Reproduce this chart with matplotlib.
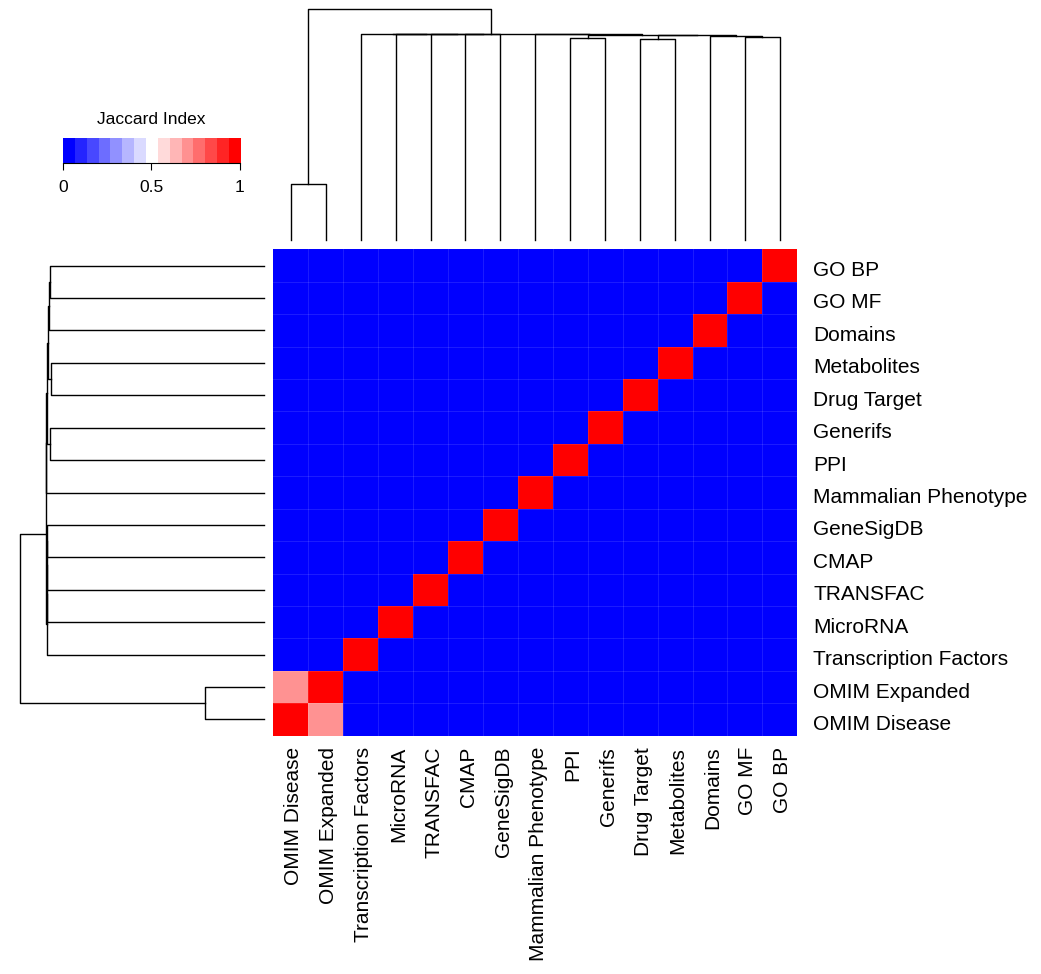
import numpy as np
import matplotlib
matplotlib.use('Agg')
import matplotlib.pyplot as plt
import matplotlib.transforms as mtransforms
from matplotlib.colors import ListedColormap, BoundaryNorm

plt.rcParams['font.family'] = ['Liberation Sans', 'DejaVu Sans']

# gene set libraries in clustered order (left to right on columns, bottom to top on rows)
labels = ['OMIM Disease', 'OMIM Expanded', 'Transcription Factors', 'MicroRNA',
          'TRANSFAC', 'CMAP', 'GeneSigDB', 'Mammalian Phenotype', 'PPI',
          'Generifs', 'Drug Target', 'Metabolites', 'Domains', 'GO MF', 'GO BP']

# jaccard index: 1 on the diagonal, ~0 elsewhere, except the two OMIM libraries
self_overlap = 1.0
omim_overlap = 0.70
background = 0.0

# hierarchical clustering merges: (left, right, height); ints refer to earlier merges
merges = [
    ('OMIM Disease', 'OMIM Expanded', 0.242),   # 0
    ('Drug Target', 'Metabolites', 0.872),      # 1
    ('PPI', 'Generifs', 0.876),                 # 2
    ('GO MF', 'GO BP', 0.877),                  # 3
    ('Domains', 3, 0.883),                      # 4
    (1, 4, 0.886),                              # 5
    (2, 5, 0.889),                              # 6
    ('CMAP', 'GeneSigDB', 0.8900),              # 7
    ('TRANSFAC', 7, 0.8905),                    # 8
    ('MicroRNA', 8, 0.8910),                    # 9
    ('Transcription Factors', 9, 0.8912),       # 10
    ('Mammalian Phenotype', 6, 0.8915),         # 11
    (10, 11, 0.892),                            # 12
    (0, 12, 1.0),                               # 13
]

n = len(labels)
jac = np.full((n, n), background)
np.fill_diagonal(jac, self_overlap)
jac[0, 1] = jac[1, 0] = omim_overlap

# 15-step blue-white-red palette like colorRampPalette(c('blue','white','red'))(15)
steps = np.linspace(0, 1, 15)
cols = []
for s in steps:
    if s <= 0.5:
        t = s / 0.5
        cols.append((t, t, 1.0))
    else:
        t = (s - 0.5) / 0.5
        cols.append((1.0, 1 - t, 1 - t))
cmap = ListedColormap(cols)
norm = BoundaryNorm(np.linspace(0, 1, 16), cmap.N)

W, H = 1041, 974
fig = plt.figure(figsize=(W / 100, H / 100), dpi=100)


def px_axes(x0, y0, x1, y1):
    return fig.add_axes([x0 / W, 1 - y1 / H, (x1 - x0) / W, (y1 - y0) / H])


# heatmap
ax = px_axes(273.3, 249.3, 797.3, 735.7)
edges = np.arange(n + 1) - 0.5
ax.pcolormesh(edges, edges, jac, cmap=cmap, norm=norm)
for e in edges[1:-1]:
    ax.axvline(e, color='white', alpha=0.13, lw=0.6)
    ax.axhline(e, color='white', alpha=0.13, lw=0.6)
ax.set_xlim(-0.5, n - 0.5)
ax.set_ylim(-0.5, n - 0.5)
for sp in ax.spines.values():
    sp.set_visible(False)
ax.yaxis.tick_right()
ax.set_yticks(range(n))
ax.set_yticklabels(labels, fontsize=15)
ax.set_xticks(range(n))
ax.set_xticklabels(labels, fontsize=15, rotation=90)
ax.tick_params(axis='y', length=0, pad=11.5)
ax.tick_params(axis='x', length=0, pad=8)
shift_x = mtransforms.ScaledTranslation(3 / 100, 0, fig.dpi_scale_trans)
shift_y = mtransforms.ScaledTranslation(0, -3 / 100, fig.dpi_scale_trans)
for lab in ax.get_xticklabels():
    lab.set_transform(lab.get_transform() + shift_x)
for lab in ax.get_yticklabels():
    lab.set_transform(lab.get_transform() + shift_y)

# dendrogram coordinates
pos = {name: float(i) for i, name in enumerate(labels)}
hgt = {name: 0.0 for name in labels}
segs = []
for k, (a, b, h) in enumerate(merges):
    xa, xb = pos[a], pos[b]
    segs.append(([xa, xa, xb, xb], [hgt[a], h, h, hgt[b]]))
    pos[k] = (xa + xb) / 2
    hgt[k] = h

# column dendrogram
axt = px_axes(273.3, 9, 797.3, 240)
for xs, hs in segs:
    axt.plot(xs, hs, color='black', lw=1.0, clip_on=False)
axt.set_xlim(-0.5, n - 0.5)
axt.set_ylim(0, 1)
axt.axis('off')

# row dendrogram
axr = px_axes(20, 249.3, 264, 735.7)
for xs, hs in segs:
    axr.plot(hs, xs, color='black', lw=1.0, clip_on=False)
axr.set_ylim(-0.5, n - 0.5)
axr.set_xlim(1, 0)
axr.axis('off')

# color key
axk = px_axes(62.7, 138, 240, 163)
axk.imshow(np.arange(15).reshape(1, -1), cmap=cmap, aspect='auto',
           extent=(0, 1, 0, 1), interpolation='nearest')
axk.set_xlim(0, 1)
axk.set_ylim(0, 1)
axk.set_yticks([])
axk.set_xticks([0, 0.5, 1])
axk.set_xticklabels(['0', '0.5', '1'], fontsize=12.5)
axk.tick_params(axis='x', length=5, width=0.8, pad=7)
for s in ['top', 'left', 'right']:
    axk.spines[s].set_visible(False)
axk.spines['bottom'].set_linewidth(0.8)
axk.set_title('Jaccard Index', fontsize=12.5, pad=10)

fig.savefig('out.png', dpi=100)
